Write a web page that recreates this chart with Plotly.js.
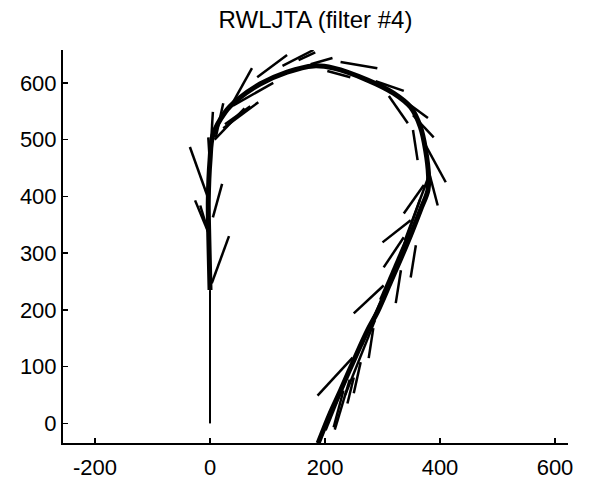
<!DOCTYPE html>
<html>
<head>
<meta charset="utf-8">
<script src="https://cdn.plot.ly/plotly-3.0.1.min.js"></script>
<style>
  html, body { margin: 0; padding: 0; background: #fff; }
  #chart { width: 589px; height: 487px; }
</style>
</head>
<body>
<div id="chart"></div>
<script>
// Thin initial stem of the track
const stemX = [0, 0];
const stemY = [0, 235];

// Main track (thick)
const pathX = [0, -2, -3, 0, 5, 26, 47, 87, 134, 180, 215, 274, 319, 349, 366, 375, 380, 379, 366, 349, 332, 314, 291, 274, 250, 227, 209, 188];
const pathY = [235, 323, 393, 464, 508, 548, 570, 598, 619, 630, 626, 605, 582, 557, 522, 481, 437, 411, 376, 332, 291, 249, 196, 164, 111, 58, 18, -35];

// Orientation whiskers: start and end points
const segX0 = [-35, -26, -17, 21, 33, -3, 5, 23, 73, 84, 70, 134, 180, 183, 213, 291, 244, 337, 379, 344, 389, 361, 410, 396, 337, 300, 349, 323, 250, 302, 276, 187, 250, 215, 239, 201, 217, 235, 264, 296, 322, 339, 8, 40];
const segY0 = [487, 393, 384, 422, 330, 504, 549, 564, 626, 566, 559, 649, 658, 654, 644, 626, 610, 586, 538, 529, 504, 464, 425, 384, 370, 319, 257, 212, 194, 275, 115, 49, 53, -7, 35, -12, -11, 50, 138, 218, 270, 323, 500, 560];
const segX1 = [-5, -3, -3, 5, 3, 0, 2, 10, 35, 23, 26, 82, 126, 154, 175, 227, 204, 288, 332, 311, 353, 353, 375, 380, 372, 349, 358, 332, 302, 337, 284, 248, 262, 232, 250, 236, 243, 287, 313, 348, 365, 379, 60, 110];
const segY1 = [402, 337, 337, 363, 247, 455, 499, 504, 557, 520, 527, 610, 630, 640, 633, 637, 621, 603, 573, 577, 543, 517, 490, 446, 420, 358, 314, 270, 243, 328, 168, 116, 108, 58, 81, 76, 77, 182, 253, 341, 394, 432, 555, 600];

// Build one trace of separated segments from the arrays
const wx = [], wy = [];
for (let i = 0; i < segX0.length; i++) {
  wx.push(segX0[i], segX1[i], null);
  wy.push(segY0[i], segY1[i], null);
}

const xTicks = [-200, 0, 200, 400, 600];
const yTicks = [0, 100, 200, 300, 400, 500, 600];

const traces = [
  { x: stemX, y: stemY, mode: 'lines', line: { color: '#000', width: 2 }, hoverinfo: 'skip' },
  { x: pathX, y: pathY, mode: 'lines', line: { color: '#000', width: 5, shape: 'spline' }, hoverinfo: 'skip' },
  { x: wx, y: wy, mode: 'lines', connectgaps: false, line: { color: '#000', width: 2.5 }, hoverinfo: 'skip' }
];

const axisFont = { family: 'Liberation Sans, Arial, sans-serif', size: 22, color: '#000' };

const layout = {
  width: 589, height: 487,
  margin: { l: 63, r: 21, t: 50, b: 44 },
  paper_bgcolor: '#fff', plot_bgcolor: '#fff',
  showlegend: false,
  title: { text: 'RWLJTA (filter #4)', font: { family: 'Liberation Sans, Arial, sans-serif', size: 24, color: '#000' }, x: 0.5, xref: 'paper', y: 0.978, yref: 'container', yanchor: 'top' },
  xaxis: {
    range: [-255.7, 622.6], showgrid: false, zeroline: false,
    showline: true, linecolor: '#000', linewidth: 2, mirror: false,
    ticks: 'inside', ticklen: 5, tickwidth: 1.5, tickcolor: '#000',
    ticklabelstandoff: 4,
    tickvals: xTicks, ticktext: xTicks.map(String), tickfont: axisFont
  },
  yaxis: {
    range: [-34.5, 658], showgrid: false, zeroline: false,
    showline: true, linecolor: '#000', linewidth: 2, mirror: false,
    ticks: 'inside', ticklen: 5, tickwidth: 1.5, tickcolor: '#000',
    tickvals: yTicks, ticktext: yTicks.map(String), tickfont: axisFont
  }
};

Plotly.newPlot('chart', traces, layout, { displayModeBar: false, staticPlot: true });
</script>
</body>
</html>
